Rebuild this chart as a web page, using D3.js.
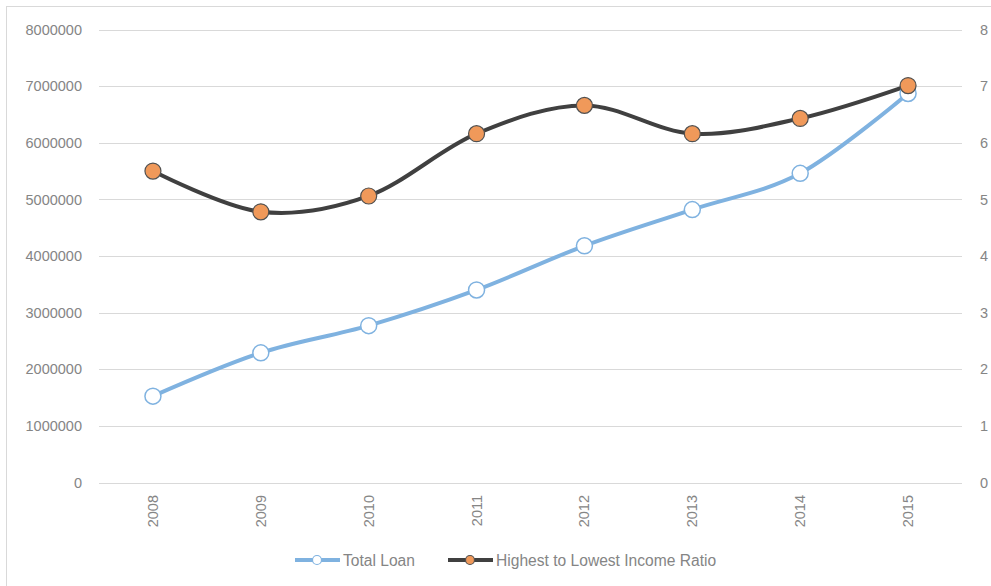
<!DOCTYPE html>
<html>
<head>
<meta charset="utf-8">
<script src="https://cdn.jsdelivr.net/npm/d3@7"></script>
<style>
  body { margin: 0; background: #fff; }
  svg { display: block; font-family: "Liberation Sans", Arial, sans-serif; }
</style>
</head>
<body>
<script>
'use strict';

const years = ['2008', '2009', '2010', '2011', '2012', '2013', '2014', '2015'];
const totalLoan = [1525000, 2290000, 2770000, 3400000, 4180000, 4820000, 5460000, 6870000];
const incomeRatio = [5.50, 4.78, 5.06, 6.16, 6.66, 6.16, 6.43, 7.01];
const leftTicks = [0, 1000000, 2000000, 3000000, 4000000, 5000000, 6000000, 7000000, 8000000];
const rightTicks = [0, 1, 2, 3, 4, 5, 6, 7, 8];

const width = 991, height = 586;
const blue = '#7fb2e0', dark = '#404040', orange = '#f0995a';

const svg = d3.select('body').append('svg')
  .attr('width', width)
  .attr('height', height);

// chart frame
svg.append('rect')
  .attr('x', 6.5).attr('y', 6.5)
  .attr('width', width + 20).attr('height', height + 20)
  .attr('fill', 'none')
  .attr('stroke', '#d9d9d9');

const x = d3.scalePoint()
  .domain(years)
  .range([99, 962])
  .padding(0.5);

const yLeft = d3.scaleLinear().domain([0, 8000000]).range([482.5, 29.5]);
const yRight = d3.scaleLinear().domain([0, 8]).range([482.5, 29.5]);

// gridlines
svg.append('g')
  .selectAll('line')
  .data(leftTicks)
  .join('line')
  .attr('x1', 99).attr('x2', 962)
  .attr('y1', d => Math.round(yLeft(d)) + 0.5)
  .attr('y2', d => Math.round(yLeft(d)) + 0.5)
  .attr('stroke', '#d9d9d9')
  .attr('stroke-width', 1);

// left axis
const leftAxis = d3.axisLeft(yLeft).tickValues(leftTicks).tickSize(0).tickPadding(0).tickFormat(d3.format('d'));
const gl = svg.append('g').attr('transform', 'translate(82,0)').call(leftAxis);
gl.select('.domain').remove();
gl.selectAll('text')
  .attr('fill', '#858585')
  .style('font-size', '14.5px')
  .style('font-family', '"Liberation Sans", Arial, sans-serif');

// right axis
const rightAxis = d3.axisRight(yRight).tickValues(rightTicks).tickSize(0).tickPadding(0);
const gr = svg.append('g').attr('transform', 'translate(980,0)').call(rightAxis);
gr.select('.domain').remove();
gr.selectAll('text')
  .attr('fill', '#858585')
  .style('font-size', '14.5px')
  .style('font-family', '"Liberation Sans", Arial, sans-serif');

// x labels, rotated
svg.append('g')
  .selectAll('text')
  .data(years)
  .join('text')
  .attr('transform', d => `translate(${x(d) + 5},495) rotate(-90)`)
  .attr('text-anchor', 'end')
  .attr('fill', '#858585')
  .style('font-size', '14.5px')
  .text(d => d);

const curve = d3.curveCatmullRom.alpha(0);

// total loan
const loanLine = d3.line()
  .x((d, i) => x(years[i]))
  .y(d => yLeft(d))
  .curve(curve);

svg.append('path')
  .datum(totalLoan)
  .attr('d', loanLine)
  .attr('fill', 'none')
  .attr('stroke', blue)
  .attr('stroke-width', 4)
  .attr('stroke-linecap', 'round');

// ratio
const ratioLine = d3.line()
  .x((d, i) => x(years[i]))
  .y(d => yRight(d))
  .curve(curve);

svg.append('path')
  .datum(incomeRatio)
  .attr('d', ratioLine)
  .attr('fill', 'none')
  .attr('stroke', dark)
  .attr('stroke-width', 4)
  .attr('stroke-linecap', 'round');

svg.append('g')
  .selectAll('circle')
  .data(totalLoan)
  .join('circle')
  .attr('cx', (d, i) => x(years[i]))
  .attr('cy', d => yLeft(d))
  .attr('r', 8)
  .attr('fill', '#fff')
  .attr('stroke', blue)
  .attr('stroke-width', 1.5);

svg.append('g')
  .selectAll('circle')
  .data(incomeRatio)
  .join('circle')
  .attr('cx', (d, i) => x(years[i]))
  .attr('cy', d => yRight(d))
  .attr('r', 8)
  .attr('fill', orange)
  .attr('stroke', '#505050')
  .attr('stroke-width', 1.2);

// legend
const legend = [
  { name: 'Total Loan', stroke: blue, fill: '#fff', mstroke: blue, x: 295 },
  { name: 'Highest to Lowest Income Ratio', stroke: dark, fill: orange, mstroke: '#505050', x: 448 }
];
const lg = svg.append('g');
legend.forEach(function(l) {
  lg.append('line')
    .attr('x1', l.x).attr('x2', l.x + 45)
    .attr('y1', 560).attr('y2', 560)
    .attr('stroke', l.stroke)
    .attr('stroke-width', 4);
  lg.append('circle')
    .attr('cx', l.x + 22).attr('cy', 560)
    .attr('r', 4.5)
    .attr('fill', l.fill)
    .attr('stroke', l.mstroke)
    .attr('stroke-width', 1.2);
  lg.append('text')
    .attr('x', l.x + 48)
    .attr('y', 565.5)
    .attr('fill', '#858585')
    .style('font-size', '15.6px')
    .text(l.name);
});
</script>
</body>
</html>
